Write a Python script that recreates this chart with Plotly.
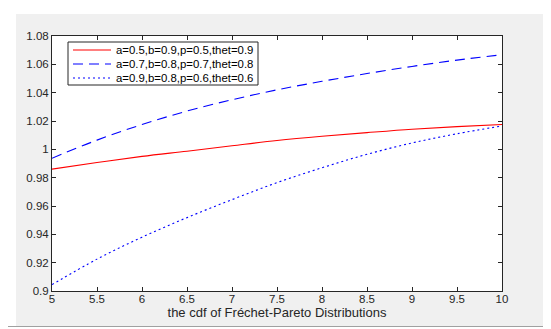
import plotly.graph_objects as go

# ---- data ----
x_vals = [5, 5.5, 6, 6.5, 7, 7.5, 8, 8.5, 9, 9.5, 10]
series_names = [
    "a=0.5,b=0.9,p=0.5,thet=0.9",
    "a=0.7,b=0.8,p=0.7,thet=0.8",
    "a=0.9,b=0.8,p=0.6,thet=0.6",
]
red_vals = [0.986, 0.9907, 0.9950, 0.9987, 1.0025, 1.0062, 1.0092, 1.0118, 1.0142, 1.0160, 1.0175]
dash_vals = [0.9937, 1.0065, 1.0175, 1.0270, 1.0350, 1.0420, 1.0480, 1.0535, 1.0585, 1.0630, 1.0668]
dot_vals = [0.9045, 0.9225, 0.9380, 0.9518, 0.9645, 0.9765, 0.9870, 0.9965, 1.0045, 1.0110, 1.0165]

x_ticks = [5, 5.5, 6, 6.5, 7, 7.5, 8, 8.5, 9, 9.5, 10]
x_ticktext = ["5", "5.5", "6", "6.5", "7", "7.5", "8", "8.5", "9", "9.5", "10"]
y_ticks = [0.9, 0.92, 0.94, 0.96, 0.98, 1.0, 1.02, 1.04, 1.06, 1.08]
y_ticktext = ["0.9", "0.92", "0.94", "0.96", "0.98", "1", "1.02", "1.04", "1.06", "1.08"]
x_label = "the cdf of Fréchet-Pareto Distributions"

colors = ["#ff0000", "#0000ff", "#0000ff"]
dashes = ["solid", "10px,6px", "2px,3px"]
all_vals = [red_vals, dash_vals, dot_vals]

FONT = "Liberation Sans, Arial, sans-serif"
TXT = "#262626"

fig = go.Figure()
for name, vals, c, d in zip(series_names, all_vals, colors, dashes):
    fig.add_trace(go.Scatter(x=x_vals, y=vals, mode="lines", name=name,
                             line=dict(color=c, width=1.1, dash=d, shape="spline")))

# plot area in pixels: x 44..494, y 28..283
L, R, T, B = 44, 494, 28, 283
W, H = R - L, B - T
def px(xp):
    return (xp - L) / W
def py(yp):
    return (B - yp) / H

shapes = [
    dict(type="rect", xref="paper", yref="paper", layer="below",
         x0=px(8), x1=px(543), y0=py(318), y1=py(6),
         fillcolor="#f0f0f0", line=dict(width=0)),
    dict(type="line", xref="paper", yref="paper", layer="below",
         x0=px(0), x1=px(551), y0=py(318.5), y1=py(318.5),
         line=dict(color="#a0a0a0", width=1)),
    dict(type="rect", xref="paper", yref="paper", layer="below",
         x0=0, x1=1, y0=0, y1=1, fillcolor="white", line=dict(width=0)),
    # legend box
    dict(type="rect", xref="paper", yref="paper", layer="above",
         x0=px(60), x1=px(250), y0=py(77), y1=py(34),
         fillcolor="white", line=dict(color=TXT, width=1)),
]
annotations = []
rows = [42, 56, 70]
for name, c, d, ry in zip(series_names, colors, dashes, rows):
    shapes.append(dict(type="line", xref="paper", yref="paper", layer="above",
                       x0=px(65), x1=px(103), y0=py(ry), y1=py(ry),
                       line=dict(color=c, width=1.1, dash=d)))
    annotations.append(dict(xref="paper", yref="paper", x=px(106), y=py(ry),
                            xanchor="left", yanchor="middle", showarrow=False,
                            text=name, font=dict(family=FONT, size=11.4, color="#000000")))

fig.update_layout(
    width=551, height=329,
    margin=dict(l=L, r=551 - R, t=T, b=329 - B),
    paper_bgcolor="white", plot_bgcolor="white",
    showlegend=False,
    shapes=shapes, annotations=annotations,
    font=dict(family=FONT, size=11.5, color=TXT),
)
fig.update_xaxes(range=[5, 10], tickvals=x_ticks, ticktext=x_ticktext,
                 ticks="inside", ticklen=4, tickcolor=TXT, tickwidth=1,
                 showline=True, linecolor=TXT, linewidth=1, mirror="ticks",
                 showgrid=False, zeroline=False, ticklabelstandoff=-3,
                 tickfont=dict(family=FONT, size=11.5, color=TXT),
                 title=dict(text=x_label, font=dict(family=FONT, size=13, color=TXT), standoff=2))
fig.update_yaxes(range=[0.9, 1.08], tickvals=y_ticks, ticktext=y_ticktext,
                 ticks="inside", ticklen=4, tickcolor=TXT, tickwidth=1,
                 showline=True, linecolor=TXT, linewidth=1, mirror="ticks",
                 showgrid=False, zeroline=False,
                 tickfont=dict(family=FONT, size=11.5, color=TXT))

fig.write_html("out.html")
